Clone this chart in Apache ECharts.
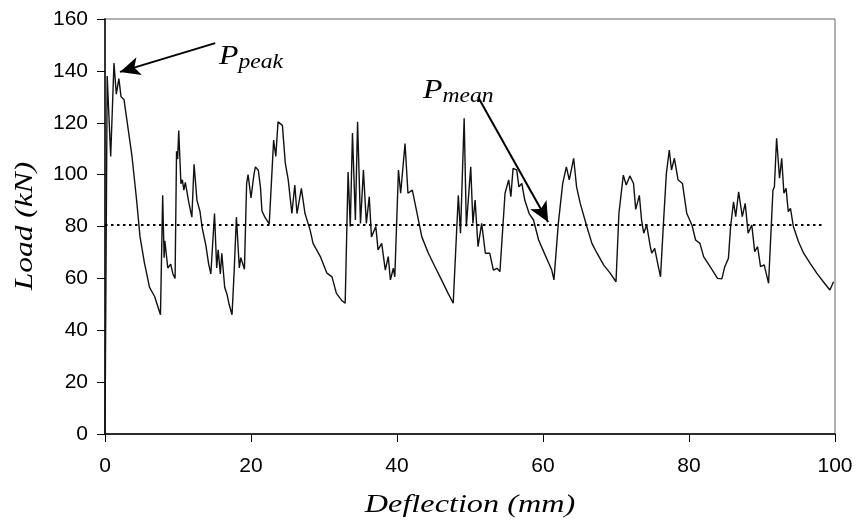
<!DOCTYPE html>
<html>
<head>
<meta charset="utf-8">
<script src="https://cdn.jsdelivr.net/npm/echarts@6/dist/echarts.min.js"></script>
<style>html,body{margin:0;padding:0;background:#fff}#c{width:857px;height:520px}</style>
</head>
<body>
<div id="c"></div>
<script>
const deflection = [0,0.3,0.78,1.23,1.55,1.9,2.2,2.6,3.0,3.7,4.3,4.8,5.4,6.1,6.8,7.6,7.9,8.1,8.2,8.6,9.0,9.3,9.6,9.8,9.95,10.1,10.4,10.6,10.8,11.0,11.5,11.9,12.2,12.6,13.0,13.3,13.8,14.2,14.5,15.0,15.3,15.5,15.8,16.0,16.4,16.7,17.0,17.4,17.7,18.0,18.4,18.6,19.1,19.4,19.6,20.0,20.4,20.6,21.0,21.3,21.5,21.9,22.5,23.1,23.4,23.7,24.3,24.7,25.1,25.6,26.0,26.3,26.9,27.4,28.1,28.5,29.5,30.4,31.1,31.7,32.4,32.9,33.3,33.6,33.9,34.3,34.6,35.0,35.4,35.8,36.2,36.5,37.1,37.4,37.9,38.4,38.8,39.1,39.5,39.7,40.2,40.5,41.1,41.5,42.1,42.7,43.4,44.3,45.2,46.1,47.0,47.7,48.4,48.7,49.2,49.5,50.1,50.4,50.7,51.1,51.6,52.1,52.7,53.2,53.7,54.1,54.8,55.3,55.6,55.9,56.4,56.7,57.1,57.5,58.1,58.7,59.4,60.0,60.7,61.2,61.5,62.1,62.7,63.2,63.6,64.2,64.6,65.1,66.0,66.7,67.4,68.3,69.2,70.0,70.4,71.0,71.4,71.9,72.4,72.7,73.2,73.5,73.8,74.2,74.7,74.9,75.3,75.8,76.1,76.5,76.9,77.3,77.6,78.0,78.5,79.1,79.7,80.4,80.9,81.5,82.0,82.6,83.2,83.9,84.5,84.9,85.4,85.7,86.1,86.4,86.8,87.3,87.7,88.1,88.6,89.0,89.4,89.8,90.3,90.9,91.5,91.7,92.0,92.4,92.7,93.0,93.3,93.6,93.9,94.3,95.0,95.7,96.6,97.5,98.4,99.3,99.8];
const load = [0,138,107,143,131,137,130,129,121,107,91,76,66,56.5,53,46,92,68,74.5,64,65.5,61.7,60,109,106,117,96.5,98,94,97,89,83.6,104,90,86,79.7,73,65.5,61.7,85,64,71,61.7,69.7,56.5,54,50,46,63,83.6,64,68,63.5,96.5,100,91,100,103,101.7,95,86,83.6,81,113.3,107,120.4,119,104.4,98,85,96,85,94.7,85,78.6,73.5,68.4,62,60.6,54.2,51.6,50.4,101,80,116,82.5,120.4,81.2,101.8,81.2,91.5,76,80,71,73.5,63.2,68.4,59.4,63.9,60.6,101.8,92.8,112,92.8,94,85.7,76,69.7,64.5,59.4,54.2,50.4,92,77.4,121.7,80,103,81.2,90.2,72.2,81.2,69.7,69.7,63.2,63.9,62.6,92.8,98,91.5,102.4,101.8,95.3,96.6,90.2,85,82.5,74.8,70.9,66.4,63.2,59.4,81.2,96.6,103,98,106.3,95.3,88.9,80,73.5,69.7,65.2,62,58.7,85,99.8,96,99.5,96.6,86.6,92,82.5,77.4,80.6,72.2,69.7,71.6,64.5,60.6,81.2,100.5,109.5,101.8,106.3,98,96.6,85,80.6,74.8,73.5,68.4,65.8,63.2,60,59.8,64.5,67.7,80,89.5,83.8,93.4,83.8,88.9,77.4,80.6,70.3,72.2,64.5,65.2,58.1,94,95.3,114,98.6,106.3,92.8,94.7,85.7,87,80,74.1,69.7,65.8,62,58.7,55.5,58.7];
const meanX = [0, 98.2];
const meanLoad = 80.6;
const peakArrow = [[15.1, 150.7], [2.05, 139.6]];
const meanArrow = [[51.1, 129.9], [60.7, 81.7]];
const xTicks = [0, 20, 40, 60, 80, 100];
const yTicks = [0, 20, 40, 60, 80, 100, 120, 140, 160];
const xTitle = 'Deflection (mm)';
const yTitle = 'Load (kN)';

const chart = echarts.init(document.getElementById('c'));
const curve = deflection.map((d, i) => [d, load[i]]);
const serif = '"Liberation Serif", "DejaVu Serif", serif';
const sans = '"Liberation Sans", Arial, sans-serif';
const annRich = {
  p: { fontFamily: serif, fontStyle: 'italic', fontSize: 27, fill: '#000' },
  s: { fontFamily: serif, fontStyle: 'italic', fontSize: 20, fill: '#000', padding: [13, 0, 0, 0] }
};

chart.setOption({
  animation: false,
  backgroundColor: '#fff',
  grid: { left: 105, right: 22, top: 19, bottom: 86, show: true, borderColor: '#666', borderWidth: 1 },
  xAxis: {
    type: 'value', min: xTicks[0], max: xTicks[xTicks.length - 1], interval: 20,
    axisLine: { lineStyle: { color: '#000', width: 1.5 } },
    axisTick: { show: true, length: 8, lineStyle: { color: '#000' } },
    axisLabel: { fontFamily: sans, fontSize: 21, color: '#000', margin: 22 },
    splitLine: { show: false }
  },
  yAxis: {
    type: 'value', min: yTicks[0], max: yTicks[yTicks.length - 1], interval: 20,
    axisLine: { show: true, lineStyle: { color: '#333', width: 2 } },
    axisTick: { show: true, length: 8, lineStyle: { color: '#000' } },
    axisLabel: { fontFamily: sans, fontSize: 21, color: '#000', margin: 17 },
    splitLine: { show: false }
  },
  series: [
    {
      type: 'line', data: curve, showSymbol: false, symbol: 'none',
      lineStyle: { color: '#111', width: 1.4 }, z: 3,
      markLine: {
        silent: true, symbol: ['none', 'none'], label: { show: false },
        lineStyle: { color: '#000', type: [2.5, 3.5], width: 2 },
        data: [[{ coord: [meanX[0], meanLoad] }, { coord: [meanX[1], meanLoad] }]]
      }
    },
    {
      type: 'line', data: [], symbol: 'none',
      markLine: {
        silent: true, symbol: ['none', 'arrow'], symbolSize: [14, 20], label: { show: false },
        lineStyle: { color: '#000', type: 'solid', width: 2 },
        data: [
          [{ coord: peakArrow[0] }, { coord: peakArrow[1] }],
          [{ coord: meanArrow[0] }, { coord: meanArrow[1] }]
        ]
      }
    }
  ],
  graphic: [
    {
      type: 'text', x: 219, y: 40, scaleX: 1.18,
      style: { text: '{p|P}{s|peak}', rich: annRich }
    },
    {
      type: 'text', x: 423, y: 74, scaleX: 1.18,
      style: { text: '{p|P}{s|mean}', rich: annRich }
    },
    {
      type: 'text', x: 470, y: 505, scaleX: 1.24,
      style: { text: xTitle, fontFamily: serif, fontStyle: 'italic', fontSize: 26, fill: '#000', align: 'center', verticalAlign: 'middle' }
    },
    {
      type: 'text', x: 25, y: 226, rotation: Math.PI / 2, scaleX: 1.26,
      style: { text: yTitle, fontFamily: serif, fontStyle: 'italic', fontSize: 25, fill: '#000', align: 'center', verticalAlign: 'middle' }
    }
  ]
});
</script>
</body>
</html>
